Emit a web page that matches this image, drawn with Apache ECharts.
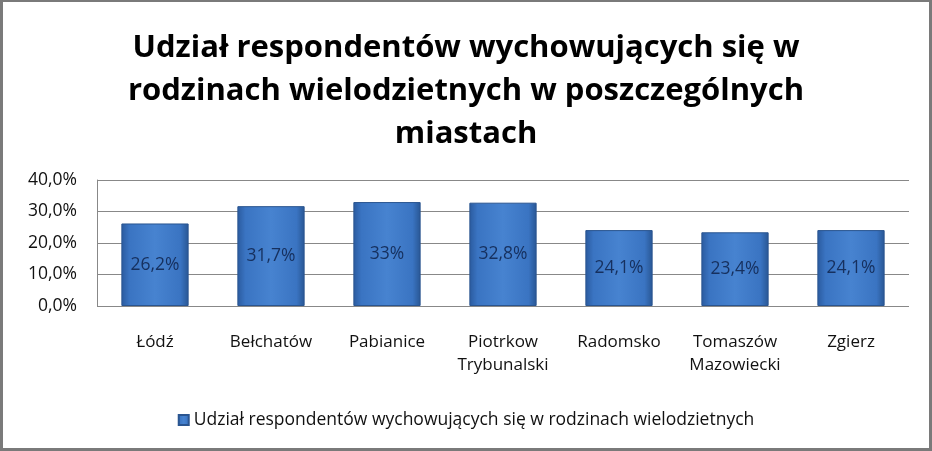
<!DOCTYPE html>
<html>
<head>
<meta charset="utf-8">
<script src="https://cdn.jsdelivr.net/npm/echarts@6/dist/echarts.min.js"></script>
<style>
html, body { margin: 0; padding: 0; background: #fff; }
#frame { width: 932px; height: 451px; box-sizing: border-box; border: 3px solid #7a7a7a; border-top-width: 2px; }
#chart { width: 926px; height: 446px; }
</style>
</head>
<body>
<div id="frame"><div id="chart"></div></div>
<script>
var cities = ['Łódź', 'Bełchatów', 'Pabianice', 'Piotrkow\nTrybunalski', 'Radomsko', 'Tomaszów\nMazowiecki', 'Zgierz'];
var shares = [26.2, 31.7, 33, 32.8, 24.1, 23.4, 24.1];
var shareLabels = ['26,2%', '31,7%', '33%', '32,8%', '24,1%', '23,4%', '24,1%'];
var seriesName = 'Udział respondentów wychowujących się w rodzinach wielodzietnych';
var titleText = 'Udział respondentów wychowujących się w\nrodzinach wielodzietnych w poszczególnych\nmiastach';

var font = '"Open Sans", "Liberation Sans", sans-serif';
var chart = echarts.init(document.getElementById('chart'));

var barColor = new echarts.graphic.LinearGradient(0, 0, 1, 0, [
	{offset: 0, color: '#2a5a9e'},
	{offset: 0.12, color: '#3a74c2'},
	{offset: 0.5, color: '#4783d0'},
	{offset: 0.88, color: '#3a74c2'},
	{offset: 1, color: '#285693'}
]);

var option = {
	animation: false,
	title: {
		text: titleText,
		left: 'center',
		top: 20,
		textStyle: {
			fontFamily: font,
			fontWeight: 'bold',
			fontSize: 31,
			lineHeight: 43,
			color: '#000'
		}
	},
	legend: {
		bottom: 14,
		left: 'center',
		itemWidth: 10,
		itemHeight: 10,
		itemGap: 6,
		icon: 'rect',
		textStyle: { fontFamily: font, fontSize: 17.5, color: '#111' },
		data: [seriesName]
	},
	grid: {
		left: 94,
		right: 20,
		top: 178,
		bottom: 142,
		containLabel: false
	},
	xAxis: {
		type: 'category',
		data: cities,
		axisLine: { show: false },
		axisTick: { show: false },
		axisLabel: {
			interval: 0,
			fontFamily: font,
			fontSize: 17,
			color: '#111',
			lineHeight: 23,
			margin: 25
		}
	},
	yAxis: {
		type: 'value',
		min: 0,
		max: 40,
		interval: 10,
		axisLine: { show: true, lineStyle: { color: '#888' } },
		axisTick: { show: false },
		splitLine: { lineStyle: { color: '#888' } },
		axisLabel: {
			fontFamily: font,
			fontSize: 17.5,
			color: '#111',
			margin: 20,
			formatter: function (v) { return v.toFixed(1).replace('.', ',') + '%'; }
		}
	},
	series: [{
		name: seriesName,
		type: 'bar',
		data: shares,
		barWidth: '58%',
		itemStyle: {
			color: barColor,
			borderColor: '#2a5590',
			borderWidth: 1
		},
		label: {
			show: true,
			position: 'inside',
			fontFamily: font,
			fontSize: 17.5,
			color: '#16305e',
			formatter: function (p) { return shareLabels[p.dataIndex]; }
		}
	}]
};
chart.setOption(option);
</script>
</body>
</html>
